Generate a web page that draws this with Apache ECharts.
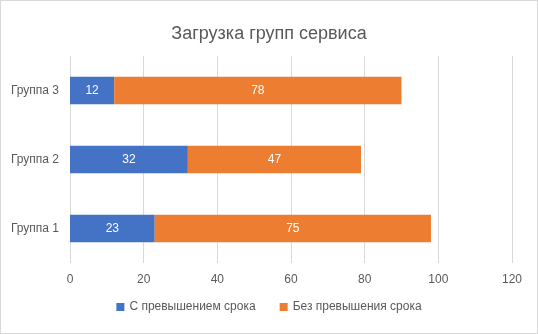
<!DOCTYPE html>
<html><head><meta charset="utf-8">
<script src="https://cdn.jsdelivr.net/npm/echarts@6/dist/echarts.min.js"></script>
<style>
html,body{margin:0;padding:0;background:#fff;}
#c{position:absolute;left:0;top:0;width:536px;height:332px;border:1px solid #d9d9d9;}
</style></head><body>
<div id="c"></div>
<script>
const categories = ['Группа 1', 'Группа 2', 'Группа 3'];
const overdue = [23, 32, 12];
const onTime = [75, 47, 78];
const seriesNames = ['С превышением срока', 'Без превышения срока'];
const xTicks = [0, 20, 40, 60, 80, 100, 120];

const chart = echarts.init(document.getElementById('c'));
const font = 'Liberation Sans, Arial, sans-serif';
const lbl = {show: true, position: 'inside', color: '#fff', fontSize: 12, fontFamily: font};
chart.setOption({
  animation: false,
  title: {text: 'Загрузка групп сервиса', left: 'center', top: 19,
    textStyle: {fontSize: 18, fontWeight: 'normal', color: '#595959', fontFamily: font}},
  legend: {bottom: 15, left: 'center', itemWidth: 8, itemHeight: 8, itemGap: 24,
    icon: 'rect', textStyle: {fontSize: 12, color: '#595959', fontFamily: font},
    data: seriesNames},
  grid: {left: 69, right: 25, top: 55, bottom: 70, containLabel: false},
  xAxis: {type: 'value', min: 0, max: 120, interval: 20,
    axisLine: {show: false}, axisTick: {show: false},
    splitLine: {lineStyle: {color: '#d9d9d9'}},
    axisLabel: {fontSize: 12, color: '#595959', margin: 11, fontFamily: font,
      formatter: v => xTicks.includes(v) ? String(v) : ''}},
  yAxis: {type: 'category', data: categories,
    axisLine: {show: false}, axisTick: {show: false},
    axisLabel: {fontSize: 12, color: '#595959', margin: 11, fontFamily: font}},
  series: [
    {name: seriesNames[0], type: 'bar', stack: 's', data: overdue, barCategoryGap: '60%',
     itemStyle: {color: '#4472C4'}, label: lbl},
    {name: seriesNames[1], type: 'bar', stack: 's', data: onTime, barCategoryGap: '60%',
     itemStyle: {color: '#ED7D31'}, label: lbl}
  ]
});
</script>
</body></html>
